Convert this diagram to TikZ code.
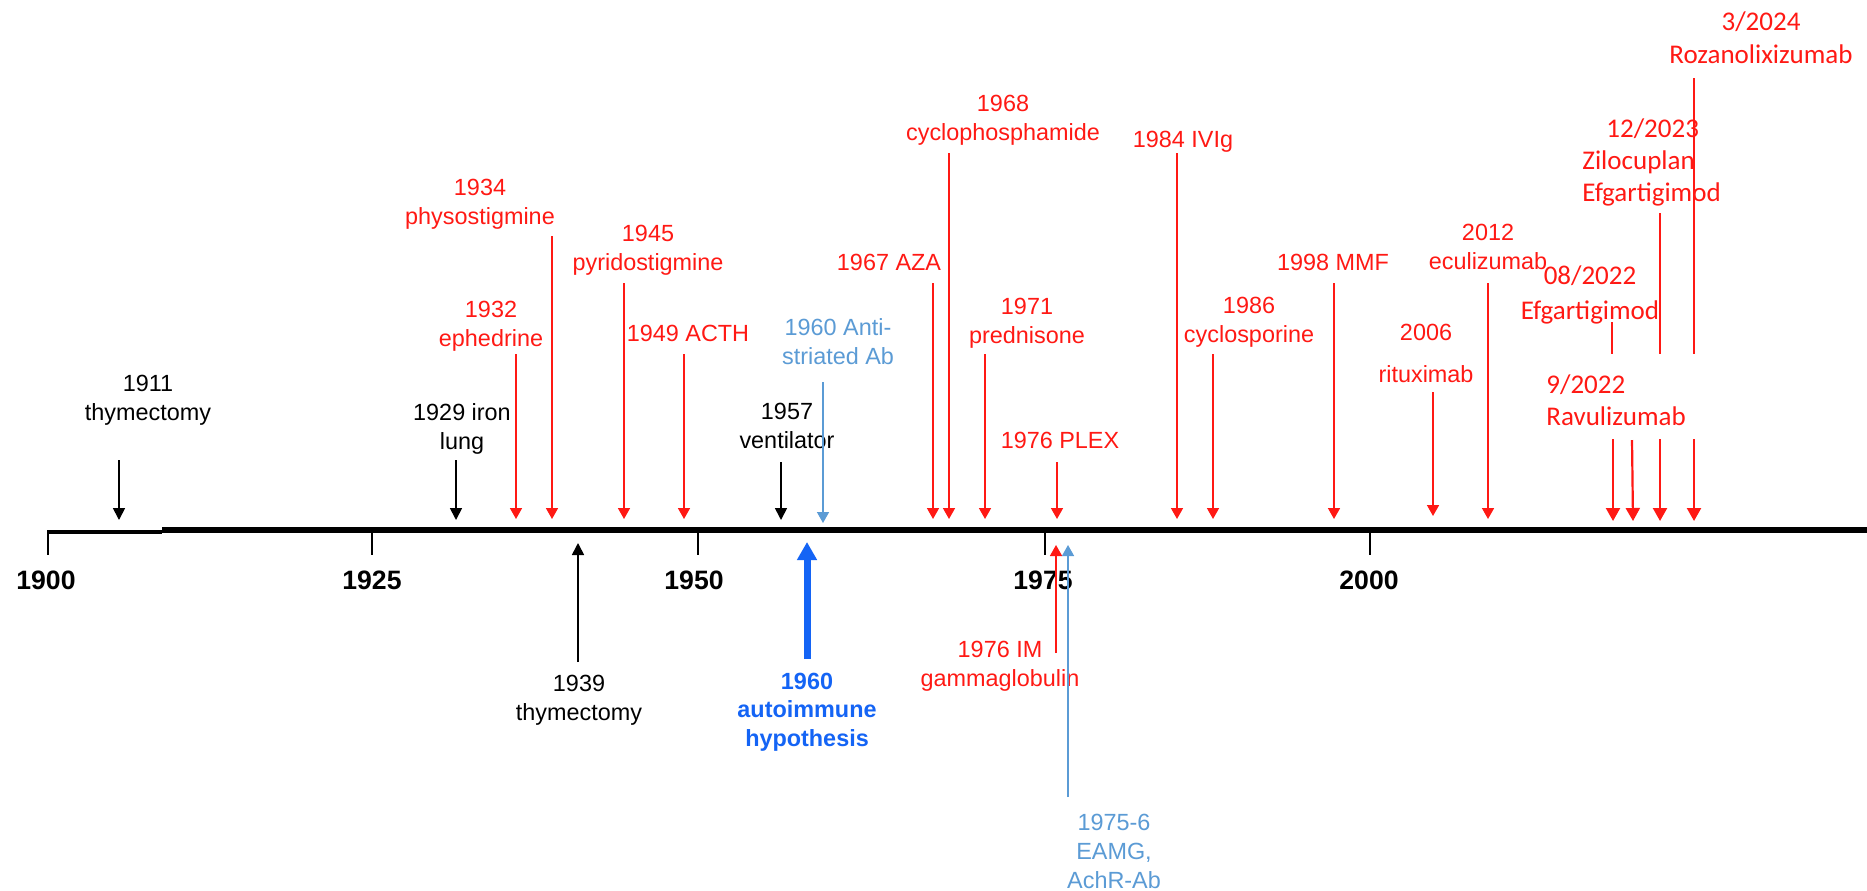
\documentclass[tikz,border=0pt]{standalone}
\usepackage{fontspec}
\setmainfont{Liberation Sans}
\newfontfamily\calibri{Carlito}
\usetikzlibrary{arrows.meta}
\definecolor{mgred}{RGB}{255,25,20}
\definecolor{abblue}{RGB}{91,155,213}
\definecolor{hypblue}{RGB}{20,100,245}

\begin{document}
\begin{tikzpicture}[x=0.5pt,y=-0.5pt,
    txt/.style={align=center,font=\fontsize{11.7}{14.5}\selectfont},
    redtxt/.style={txt,text=mgred},
    caltxt/.style={align=center,text=mgred,font=\calibri\fontsize{13.5}{16}\selectfont},
    yeartxt/.style={font=\bfseries\fontsize{13.3}{16}\selectfont},
    blackline/.style={line width=0.85pt,-{Triangle[width=6pt,length=6pt]}},
    redline/.style={mgred,line width=0.8pt,-{Triangle[width=6pt,length=5.5pt]}},
    redbar/.style={mgred,line width=1.1pt},
    redfat/.style={mgred,line width=1.1pt,-{Triangle[width=7pt,length=6.5pt]}},
    blueline/.style={abblue,line width=0.7pt,-{Triangle[width=6pt,length=5.5pt]}}]
    \tikzstyle{every node}+=[inner sep=0pt]
    \useasboundingbox (0,0) rectangle (1867,890);
    \fill [white] (0,0) rectangle (1867,890);
    \draw [black,line width=2.2pt] (48,532) -- (162,532);
    \draw [black,line width=3.3pt] (162,530) -- (1867,530);
    \draw [black,line width=0.8pt] (48,530) -- (48,555);
    \draw [black,line width=0.8pt] (372,530) -- (372,555);
    \draw [black,line width=0.8pt] (698,530) -- (698,555);
    \draw [black,line width=0.8pt] (1045,530) -- (1045,555);
    \draw [black,line width=0.8pt] (1370,530) -- (1370,555);
    \node [yeartxt] (y1900) at (46,580) {1900};
    \node [yeartxt] (y1925) at (372,580) {1925};
    \node [yeartxt] (y1950) at (694,580) {1950};
    \node [yeartxt] (y1975) at (1043,580) {1975};
    \node [yeartxt] (y2000) at (1369,580) {2000};
    \node [txt] (l1911) at (148,400) {1911\\thymectomy};
    \coordinate (s1911) at (119,460);
    \coordinate (e1911) at (119,520);
    \draw [blackline] (s1911) -- (e1911);
    \node [txt] (l1929) at (462,429) {1929 iron\\lung};
    \coordinate (s1929) at (456,460);
    \coordinate (e1929) at (456,520);
    \draw [blackline] (s1929) -- (e1929);
    \node [redtxt] (l1932) at (491,326) {1932\\ephedrine};
    \coordinate (s1932) at (516,354);
    \coordinate (e1932) at (516,519);
    \draw [redline] (s1932) -- (e1932);
    \node [redtxt] (l1934) at (480,204) {1934\\physostigmine};
    \coordinate (s1934) at (552,236);
    \coordinate (e1934) at (552,519);
    \draw [redline] (s1934) -- (e1934);
    \node [redtxt] (l1945) at (648,250) {1945\\pyridostigmine};
    \coordinate (s1945) at (624,283);
    \coordinate (e1945) at (624,519);
    \draw [redline] (s1945) -- (e1945);
    \node [redtxt] (l1949) at (688,333) {1949 ACTH};
    \coordinate (s1949) at (684,354);
    \coordinate (e1949) at (684,519);
    \draw [redline] (s1949) -- (e1949);
    \node [txt] (l1957) at (787,426) {1957\\ventilator};
    \coordinate (s1957) at (781,462);
    \coordinate (e1957) at (781,520);
    \draw [blackline] (s1957) -- (e1957);
    \node [txt,text=abblue] (l1960a) at (838,342) {1960 Anti-\\striated Ab};
    \coordinate (s1960a) at (823,382);
    \coordinate (e1960a) at (823,523);
    \draw [blueline] (s1960a) -- (e1960a);
    \node [redtxt] (l1967) at (889,262) {1967 AZA};
    \coordinate (s1967) at (933,283);
    \coordinate (e1967) at (933,519);
    \draw [redline] (s1967) -- (e1967);
    \node [redtxt] (l1968) at (1003,120) {1968\\cyclophosphamide};
    \coordinate (s1968) at (949,153);
    \coordinate (e1968) at (949,519);
    \draw [redline] (s1968) -- (e1968);
    \node [redtxt] (l1971) at (1027,323) {1971\\prednisone};
    \coordinate (s1971) at (985,354);
    \coordinate (e1971) at (985,519);
    \draw [redline] (s1971) -- (e1971);
    \node [redtxt] (l1976p) at (1060,440) {1976 PLEX};
    \coordinate (s1976p) at (1057,462);
    \coordinate (e1976p) at (1057,519);
    \draw [redline] (s1976p) -- (e1976p);
    \node [redtxt] (l1984) at (1183,142) {1984 IVIg};
    \coordinate (s1984) at (1177,153);
    \coordinate (e1984) at (1177,519);
    \draw [redline] (s1984) -- (e1984);
    \node [redtxt] (l1986) at (1249,322) {1986\\cyclosporine};
    \coordinate (s1986) at (1213,354);
    \coordinate (e1986) at (1213,519);
    \draw [redline] (s1986) -- (e1986);
    \node [redtxt] (l1998) at (1333,262) {1998 MMF};
    \coordinate (s1998) at (1334,283);
    \coordinate (e1998) at (1334,519);
    \draw [redline] (s1998) -- (e1998);
    \node [redtxt] (l2006) at (1426,353) {2006\\[6.5pt]rituximab};
    \coordinate (s2006) at (1433,392);
    \coordinate (e2006) at (1433,516);
    \draw [redline] (s2006) -- (e2006);
    \node [redtxt] (l2012) at (1488,247) {2012\\eculizumab};
    \coordinate (s2012) at (1488,283);
    \coordinate (e2012) at (1488,519);
    \draw [redline] (s2012) -- (e2012);
    \node [caltxt,font=\calibri\fontsize{13.5}{16.5}\selectfont] (l2024) at (1761,38) {3/2024\\Rozanolixizumab};
    \node [caltxt,align=left,anchor=west] (l2023) at (1582,162) {\hspace*{12pt}12/2023\\Zilocuplan\\Efgartigimod};
    \node [caltxt,font=\calibri\fontsize{13.5}{17.5}\selectfont] (l2022e) at (1590,295) {08/2022\\Efgartigimod};
    \node [caltxt,align=left,anchor=west] (l2022r) at (1546,400) {9/2022\\Ravulizumab};
    \coordinate (s2024) at (1694,78);
    \coordinate (m2024) at (1694,354);
    \draw [redbar] (s2024) -- (m2024);
    \coordinate (s2023) at (1660,213);
    \coordinate (m2023) at (1660,354);
    \draw [redbar] (s2023) -- (m2023);
    \coordinate (s2022e) at (1612,322);
    \coordinate (m2022e) at (1612,354);
    \draw [redbar] (s2022e) -- (m2022e);
    \coordinate (a2022e) at (1613,439);
    \coordinate (b2022e) at (1613,521);
    \draw [redfat] (a2022e) -- (b2022e);
    \coordinate (a2022r) at (1632,440);
    \coordinate (b2022r) at (1633,521);
    \draw [redfat] (a2022r) -- (b2022r);
    \coordinate (a2023) at (1660,439);
    \coordinate (b2023) at (1660,521);
    \draw [redfat] (a2023) -- (b2023);
    \coordinate (a2024) at (1694,439);
    \coordinate (b2024) at (1694,521);
    \draw [redfat] (a2024) -- (b2024);
    \node [txt] (l1939) at (579,700) {1939\\thymectomy};
    \coordinate (s1939) at (578,662);
    \coordinate (e1939) at (578,543);
    \draw [blackline] (s1939) -- (e1939);
    \node [txt,text=hypblue,font=\bfseries\fontsize{11.7}{14.3}\selectfont] (l1960h) at (807,712) {1960\\autoimmune\\hypothesis};
    \coordinate (s1960h) at (807,659);
    \coordinate (e1960h) at (807,542);
    \draw [hypblue,line width=3.5pt,-{Triangle[width=9.5pt,length=9pt]}] (s1960h) -- (e1960h);
    \node [redtxt] (l1976i) at (1000,666) {1976 IM\\gammaglobulin};
    \coordinate (s1976i) at (1056,653);
    \coordinate (e1976i) at (1056,545);
    \draw [redline] (s1976i) -- (e1976i);
    \node [txt,text=abblue] (l1975) at (1114,851) {1975-6\\EAMG,\\AchR-Ab};
    \coordinate (s1975) at (1068,797);
    \coordinate (e1975) at (1068,545);
    \draw [blueline] (s1975) -- (e1975);
\end{tikzpicture}
\end{document}
